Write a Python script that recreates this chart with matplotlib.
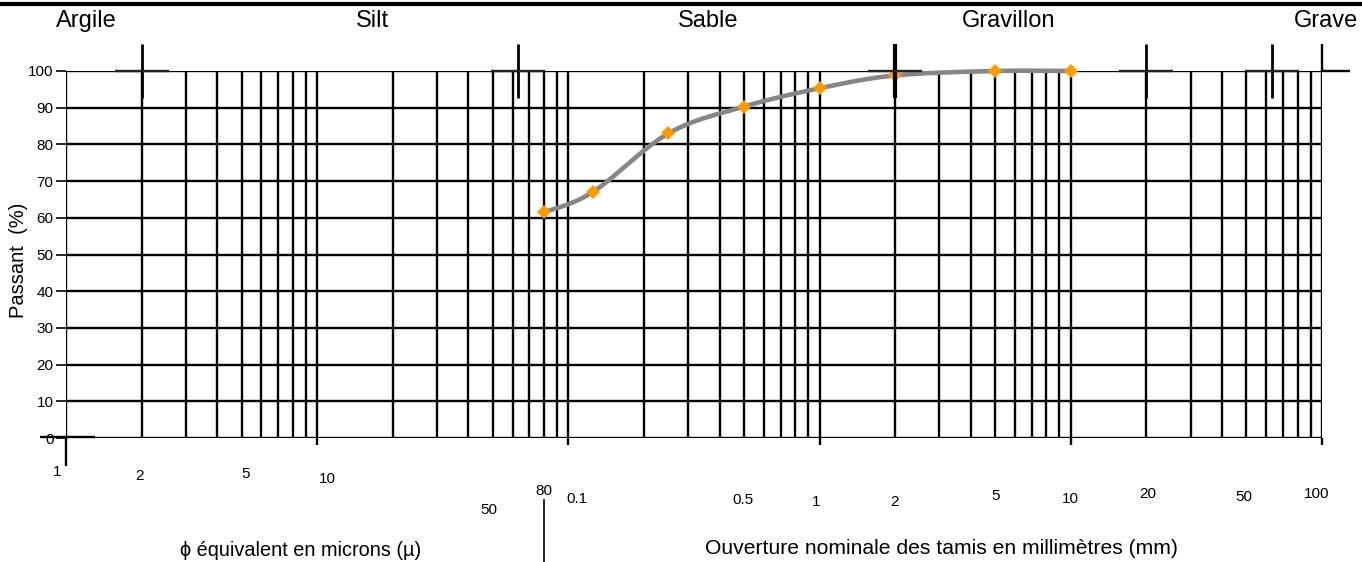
import numpy as np
import matplotlib
matplotlib.use("Agg")
import matplotlib.pyplot as plt
import matplotlib.transforms as mtransforms
from matplotlib.lines import Line2D

plt.rcParams['font.family'] = ['Liberation Sans', 'DejaVu Sans']

# Sieve analysis: opening (mm) and cumulative percentage passing
sizes_mm = [0.08, 0.125, 0.25, 0.5, 1, 2, 5, 10]
passing = [61.5, 67, 83, 90.3, 95.3, 98.8, 100, 100]

# Soil classes and their limits (mm)
class_names = ['Argile', 'Silt', 'Sable', 'Gravillon', 'Grave']
class_bounds_mm = [0.002, 0.063, 2, 20, 63]

y_ticks = list(range(0, 101, 10))

# Size labels under the chart (values in mm)
size_labels = ['1', '2', '5', '10', '50', '80',
               '0.1', '0.5', '1', '2', '5', '10', '20', '50', '100']
size_values_mm = [0.001, 0.002, 0.005, 0.01, 0.05, 0.08,
                  0.1, 0.5, 1, 2, 5, 10, 20, 50, 100]

# --- layout (pixels) ---
W, H = 1362, 562
label_dx = [-9, -2, 4, 10, -4, 0, 9, -1, -3, -1, 0, 0, 1, -3, -5]
label_y = [472, 476, 474, 479, 510, 491, 499, 500, 502, 502, 496, 499, 494, 497, 494]
class_x = [86, 372, 708, 1009, 1326]

fig = plt.figure(figsize=(W / 100, H / 100), dpi=100)
ax = fig.add_axes([66 / W, (H - 438) / H, (1322 - 66) / W, (438 - 71) / H])
ax.set_xscale('log')
ax.set_xlim(0.001, 100)
ax.set_ylim(0, 100)
for s in ax.spines.values():
    s.set_visible(False)
ax.set_xticks([])
ax.set_xticks([], minor=True)
ax.set_yticks(y_ticks)
ax.tick_params(axis='y', length=7, width=1.2, pad=2, labelsize=11, colors='black')

lw = 1.7
px_y = 100 / (438 - 71)          # data units per pixel, vertical
decade_px = (1322 - 66) / 5      # pixels per decade

def shift(v, px):
    return v * 10 ** (px / decade_px)

# log grid: 1..9 in every decade
grid_x = [m * 10.0 ** e for e in range(-3, 2) for m in range(1, 10)] + [100.0]
ax.vlines(grid_x, 0, 100, color='black', lw=lw, zorder=1)
ax.hlines(y_ticks, 0.001, 100, color='black', lw=lw, zorder=1)
ax.hlines(100, 100, shift(100, 28), color='black', lw=lw, zorder=1, clip_on=False)
# decade marks below the zero line
ax.vlines([0.01, 0.1, 1, 10, 100], -7 * px_y, 0, color='black', lw=lw, clip_on=False)
ax.vlines(0.001, -28 * px_y, 0, color='black', lw=lw, clip_on=False)
ax.hlines(0.3, shift(0.001, -26), shift(0.001, 29), color='black', lw=lw, clip_on=False)

# grading curve (smooth Bezier through the points, in screen-like units)
u = np.log10(sizes_mm) * decade_px
v = np.array(passing) / px_y
P = np.column_stack([u, v])
n = len(P)
curve = []
t = np.linspace(0, 1, 40)[:, None]
for i in range(n - 1):
    p0, p3 = P[i], P[i + 1]
    pm = P[i - 1] if i > 0 else P[i]
    pp = P[i + 2] if i + 2 < n else P[i + 1]
    c1 = p0 + (p3 - pm) / 6
    c2 = p3 - (pp - p0) / 6
    seg = ((1 - t) ** 3) * p0 + 3 * ((1 - t) ** 2) * t * c1 + 3 * (1 - t) * t ** 2 * c2 + t ** 3 * p3
    curve.append(seg)
curve = np.vstack(curve)
ax.plot(10 ** (curve[:, 0] / decade_px), curve[:, 1] * px_y, color='#868686',
        lw=3.3, solid_capstyle='round', zorder=3, clip_on=False)
ax.plot(sizes_mm, passing, 'D', color='#FF9B00', ms=6.8, mew=0, zorder=4, clip_on=False)

# class limits above the 100 % line
for b in class_bounds_mm:
    ax.vlines(b, 100 - 27 * px_y, 100 + 27 * px_y, color='black',
              lw=3.0 if b == 2 else 2.0, zorder=5, clip_on=False)
    ax.hlines(100, shift(b, -27), shift(b, 27), color='#222222', lw=lw, zorder=5, clip_on=False)
ax.vlines(100, 100, 100 + 27 * px_y, color='black', lw=lw, zorder=5, clip_on=False)

# heavy rule at the top
fig.add_artist(Line2D([0, 1], [1 - 3.5 / H] * 2, color='black', lw=3))

for name, x in zip(class_names, class_x):
    fig.text(x / W, 1 - 21 / H, name, ha='center', va='center', fontsize=17)

blend = mtransforms.blended_transform_factory(ax.transData, fig.transFigure)
for lab, val, dx, yy in zip(size_labels, size_values_mm, label_dx, label_y):
    ax.text(shift(val, dx), 1 - yy / H, lab, transform=blend,
            ha='center', va='center', fontsize=11)
fig.add_artist(Line2D([0.08, 0.08], [0, 62 / H], transform=blend, color='black', lw=1.2))

fig.text(19 / W, 1 - 260 / H, 'Passant  (%)', rotation=90, ha='center', va='center', fontsize=14.5)
fig.text(301 / W, 1 - 550 / H, 'ϕ équivalent en microns (µ)', ha='center', va='center',
         fontsize=14.3, family=['Liberation Sans', 'DejaVu Sans'])
fig.text(941 / W, 1 - 549 / H, 'Ouverture nominale des tamis en millimètres (mm)',
         ha='center', va='center', fontsize=15.2)

fig.savefig('out.png', dpi=100)
